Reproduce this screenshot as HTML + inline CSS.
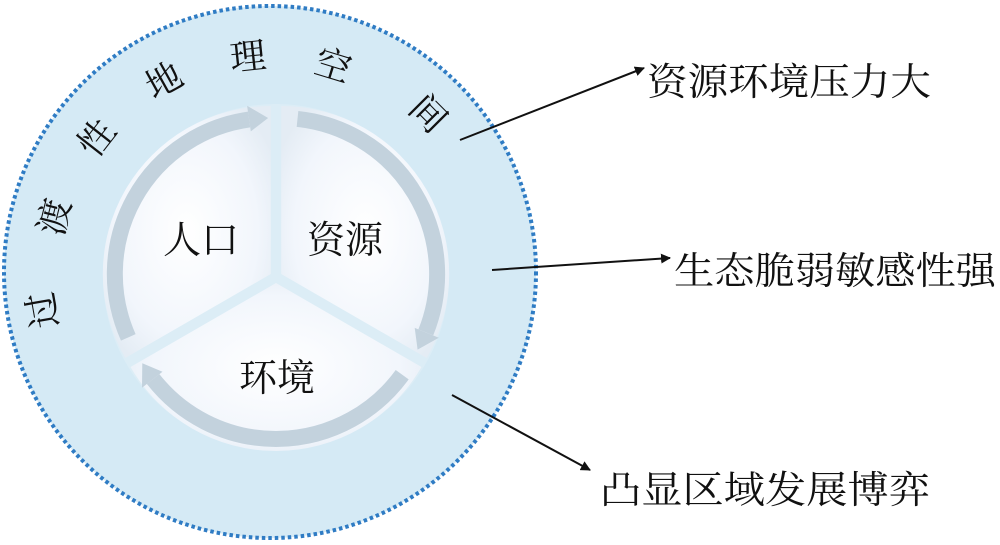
<!DOCTYPE html>
<html><head><meta charset="utf-8"><style>
html,body{margin:0;padding:0;background:#fff;}
svg{display:block;}
text{font-family:"Liberation Serif","Noto Serif CJK SC","Noto Sans CJK SC",serif;fill:#111;}
</style></head><body>
<svg width="1000" height="545" viewBox="0 0 1000 545" xmlns="http://www.w3.org/2000/svg">
<defs>
<radialGradient id="sg" cx="50%" cy="50%" r="60%">
<stop offset="0" stop-color="#ffffff"/><stop offset="0.7" stop-color="#f2f6fc"/><stop offset="1" stop-color="#e4ecf4"/>
</radialGradient>
<marker id="ah" markerWidth="10" markerHeight="10" refX="9" refY="5" orient="auto" markerUnits="userSpaceOnUse" viewBox="0 0 10 10">
<path d="M0,0 L10,5 L0,10 Z" fill="#111"/>
</marker>
</defs>
<circle cx="270" cy="272" r="266" fill="#d5eaf5" stroke="#2f7cc4" stroke-width="4" stroke-dasharray="3.5 3"/>
<circle cx="276" cy="277" r="173" fill="#dcedf6"/>
<path d="M270.8,274 L125.3,358 A168,168 0 0 1 270.8,106 Z" fill="url(#sg)"/>
<path d="M281.2,274 L281.2,106 A168,168 0 0 1 426.7,358 Z" fill="url(#sg)"/>
<path d="M276,283 L421.5,367 A168,168 0 0 1 130.5,367 Z" fill="url(#sg)"/>
<g fill="none" stroke="#c3d2dd" stroke-width="16">
<path d="M128.3,337.4 A156,156 0 0 1 249.1,119.5"/>
<path d="M297.5,118.9 A156,156 0 0 1 425.8,332.4"/>
<path d="M402.2,374.7 A156,156 0 0 1 153.1,379.0"/>
</g>
<g fill="#c3d2dd">
<polygon points="250.8,131.4 247.1,105.7 268.1,118.0"/>
<polygon points="414.7,327.9 438.8,337.7 417.6,349.6"/>
<polygon points="162.5,371.7 142.0,387.7 142.3,363.3"/>
</g>
<g font-size="38">
<text x="201" y="253" text-anchor="middle">人口</text>
<text x="345" y="253" text-anchor="middle">资源</text>
<text x="277" y="391" text-anchor="middle">环境</text>
</g>
<g font-size="36" text-anchor="middle" dominant-baseline="central">
<text transform="translate(43,310) rotate(-100)">过</text>
<text transform="translate(55,217) rotate(-76)">渡</text>
<text transform="translate(97,138) rotate(-52)">性</text>
<text transform="translate(164,81) rotate(-29)">地</text>
<text transform="translate(248,57) rotate(-6)">理</text>
<text transform="translate(333,66) rotate(17)">空</text>
<text transform="translate(428,114) rotate(45)">间</text>
</g>
<g stroke="#111" stroke-width="2" marker-end="url(#ah)">
<line x1="460" y1="140" x2="644" y2="68"/>
<line x1="492" y1="270" x2="670" y2="258"/>
<line x1="452" y1="395" x2="590" y2="470"/>
</g>
<g font-size="38">
<text x="647" y="95" textLength="284" lengthAdjust="spacingAndGlyphs">资源环境压力大</text>
<text x="674" y="284" textLength="322" lengthAdjust="spacingAndGlyphs">生态脆弱敏感性强</text>
<text x="600" y="503" textLength="330" lengthAdjust="spacingAndGlyphs">凸显区域发展博弈</text>
</g>
</svg>
</body></html>
